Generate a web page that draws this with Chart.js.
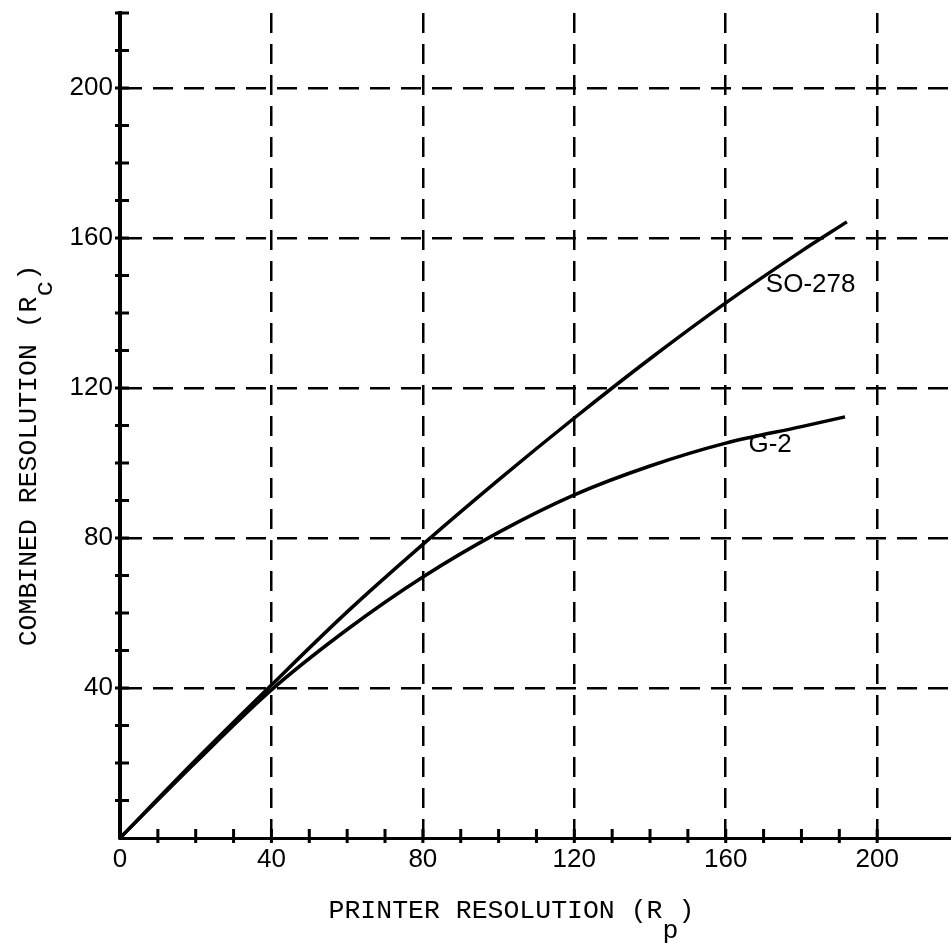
<!DOCTYPE html>
<html>
<head>
<meta charset="utf-8">
<script src="https://cdn.jsdelivr.net/npm/chart.js@4.4.1/dist/chart.umd.min.js"></script>
<style>
  html, body { margin: 0; padding: 0; background: #fff; }
  #wrap { width: 951px; height: 948px; }
</style>
</head>
<body>
<div id="wrap"><canvas id="myChart" width="951" height="948"></canvas></div>
<script>
// printer resolution (R_p) vs combined resolution (R_c)
const so278X = [0, 20, 40, 60, 80, 100, 120, 140, 160, 180, 192];
const so278Y = [0, 20.8, 40.8, 60.3, 78.3, 95.5, 112, 127.8, 142.7, 156.5, 164.3];
const g2X = [0, 20, 40, 60, 80, 100, 120, 140, 160, 180, 191.5];
const g2Y = [0, 20.2, 39.5, 55.6, 69.6, 81.5, 91.5, 99.2, 105.3, 109.7, 112.3];

const xTickLabels = [0, 40, 80, 120, 160, 200];
const yTickLabels = [40, 80, 120, 160, 200];
const gridValues = [40, 80, 120, 160, 200];

// curve names, anchored in data units
const curveNames = ['SO-278', 'G-2'];
const curveNameAt = [[170.6, 145.6], [166, 103]];

const tickFont = '"Liberation Sans", Arial, sans-serif';
const titleFont = '"Liberation Mono", "Courier New", monospace';

function toPoints(xs, ys) {
  const pts = [];
  for (let i = 0; i < xs.length; i++) {
    pts.push({x: xs[i], y: ys[i]});
  }
  return pts;
}

const decor = {
  id: 'decor',
  afterDraw(chart) {
    const ctx = chart.ctx;
    const a = chart.chartArea;
    const x = chart.scales.x;
    const y = chart.scales.y;
    ctx.save();
    ctx.strokeStyle = '#000';
    ctx.lineWidth = 3;
    ctx.beginPath();
    // small tick crosses every 10 units
    x.ticks.forEach(t => {
      if (t.value === 0 || t.value % 10 !== 0) return;
      const px = x.getPixelForValue(t.value);
      ctx.moveTo(px, a.bottom - 9);
      ctx.lineTo(px, a.bottom + 5);
    });
    y.ticks.forEach(t => {
      if (t.value === 0 || t.value % 10 !== 0) return;
      const py = y.getPixelForValue(t.value);
      ctx.moveTo(a.left - 5, py);
      ctx.lineTo(a.left + 9, py);
    });
    ctx.stroke();

    ctx.fillStyle = '#000';
    ctx.textBaseline = 'alphabetic';
    ctx.textAlign = 'left';
    ctx.font = '26px ' + tickFont;
    curveNames.forEach((name, i) => {
      ctx.fillText(name, x.getPixelForValue(curveNameAt[i][0]), y.getPixelForValue(curveNameAt[i][1]));
    });

    // axis titles, typewriter style with the subscript dropped half a line
    ctx.font = '26.5px ' + titleFont;
    const cw = ctx.measureText('M').width;

    const xt = 'PRINTER RESOLUTION (R )';
    const xw = ctx.measureText(xt).width;
    const xStart = a.left + (a.right - a.left) * 0.471 - xw / 2;
    const xBase = a.bottom + 80;
    ctx.fillText(xt, xStart, xBase);
    ctx.fillText('p', xStart + cw * 21, xBase + 20);

    const yt = 'COMBINED RESOLUTION (R )';
    const yw = ctx.measureText(yt).width;
    ctx.translate(a.left - 84, (a.top + a.bottom) / 2 + 30);
    ctx.rotate(-Math.PI / 2);
    ctx.fillText(yt, -yw / 2, 0);
    ctx.fillText('c', -yw / 2 + cw * 22, 16);
    ctx.restore();
  }
};

const myChart = document.getElementById('myChart').getContext('2d');

const ResolutionChart = new Chart(myChart, {
  type: 'scatter',
  data: {
    datasets: [{
      label: 'SO-278',
      data: toPoints(so278X, so278Y),
      showLine: true,
      borderColor: '#000',
      borderWidth: 3.5,
      pointRadius: 0,
      cubicInterpolationMode: 'monotone'
    }, {
      label: 'G-2',
      data: toPoints(g2X, g2Y),
      showLine: true,
      borderColor: '#000',
      borderWidth: 3.5,
      pointRadius: 0,
      cubicInterpolationMode: 'monotone'
    }]
  },
  options: {
    responsive: false,
    animation: false,
    layout: {padding: {top: 13, right: 0, bottom: 0, left: 0}},
    scales: {
      x: {
        type: 'linear',
        min: 0,
        max: 219.5,
        afterFit: s => { s.height = 110; s.paddingLeft = 0; s.paddingRight = 0; },
        ticks: {
          stepSize: 10,
          autoSkip: false,
          maxRotation: 0,
          padding: 6,
          color: '#000',
          font: {family: tickFont, size: 26},
          callback: v => xTickLabels.includes(v) ? String(v) : ''
        },
        grid: {
          drawTicks: false,
          lineWidth: 2.5,
          color: c => gridValues.includes(c.tick.value) ? '#000' : 'rgba(0,0,0,0)'
        },
        border: {color: '#000', width: 3, dash: [20, 11]}
      },
      y: {
        type: 'linear',
        min: 0,
        max: 220,
        afterFit: s => { s.width = 120; s.paddingTop = 0; s.paddingBottom = 0; },
        ticks: {
          stepSize: 10,
          autoSkip: false,
          padding: 7,
          color: '#000',
          font: {family: tickFont, size: 26},
          callback: v => yTickLabels.includes(v) ? String(v) : ''
        },
        grid: {
          drawTicks: false,
          lineWidth: 2.5,
          color: c => gridValues.includes(c.tick.value) ? '#000' : 'rgba(0,0,0,0)'
        },
        border: {color: '#000', width: 4, dash: [20, 11]}
      }
    },
    plugins: {
      legend: {display: false},
      tooltip: {enabled: false}
    }
  },
  plugins: [decor]
});
</script>
</body>
</html>
